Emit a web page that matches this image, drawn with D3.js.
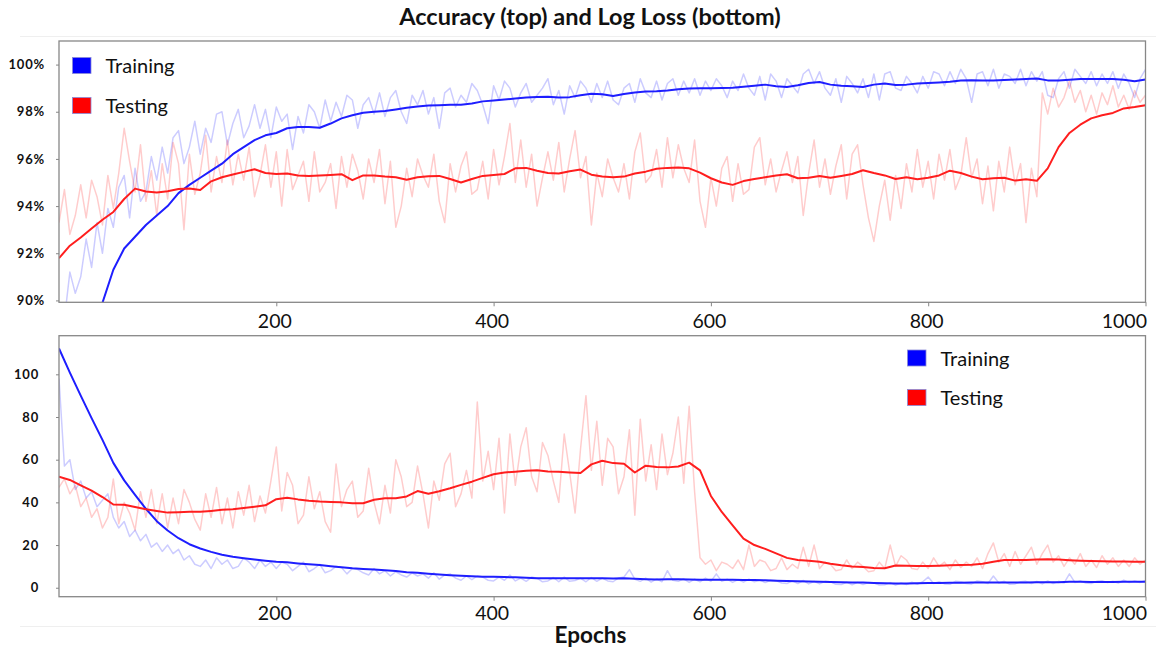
<!DOCTYPE html>
<html><head><meta charset="utf-8">
<script src="https://cdn.jsdelivr.net/npm/d3@7/dist/d3.min.js"></script>
<style>
html,body{margin:0;padding:0;background:#fff;}
svg{display:block;font-family:Lato,"Open Sans",sans-serif;}
</style></head><body>
<svg id="chart" width="1156" height="649"></svg>
<script>
// ---------------- data ----------------
const RAW_STEP = 5;      // raw (per-epoch sample) series every 5 epochs
const SMOOTH_STEP = 10;  // smoothed series every 10 epochs
const xTicks = [200, 400, 600, 800, 1000];
const accTicks = [90, 92, 94, 96, 98, 100];
const lossTicks = [0, 20, 40, 60, 80, 100];
const legendNames = ["Training", "Testing"];
const titleText = "Accuracy (top) and Log Loss (bottom)";
const xLabel = "Epochs";

const accTrainRaw = [
87.5,89.2,91.2,90.3,91.0,92.6,91.4,93.3,92.0,93.9,93.1,94.8,95.3,93.5,95.6,94.2,94.6,96.1,95.1,96.5,
95.4,96.9,97.2,95.8,96.5,97.6,96.2,97.3,96.7,97.9,98.0,96.6,97.5,98.1,96.9,97.4,98.3,97.3,98.1,96.9,
98.2,97.6,97.9,96.4,97.8,97.1,98.3,98.0,97.3,98.5,97.6,98.4,97.8,98.7,98.5,97.3,98.3,98.6,97.9,98.8,
97.8,98.6,98.9,98.0,97.5,98.7,98.3,98.9,97.9,98.6,97.3,98.8,99.0,98.2,98.7,98.4,99.2,98.9,98.3,97.5,
99.1,98.5,99.3,99.0,98.2,98.8,99.2,98.4,98.7,99.0,99.4,98.3,98.9,97.9,99.1,98.6,99.3,99.0,98.4,99.2,
98.6,99.3,98.5,98.3,99.0,99.2,98.4,99.4,98.8,98.6,99.3,98.5,99.2,99.4,98.7,99.3,98.8,99.4,98.7,99.3,
98.9,99.4,99.1,98.6,99.3,98.9,99.6,99.0,98.7,99.5,98.5,99.6,99.3,98.6,99.4,99.1,98.8,99.6,99.8,99.2,
99.7,99.0,98.7,99.4,98.4,99.5,99.2,98.8,99.4,98.6,99.6,98.5,99.6,99.7,99.0,98.9,99.5,99.2,98.8,99.5,
99.0,99.7,99.6,99.1,99.7,99.2,99.8,99.4,98.4,99.6,99.7,99.1,99.8,99.0,99.6,99.5,99.2,99.8,99.1,99.7,
99.3,99.7,98.7,98.6,99.4,99.7,99.0,99.8,99.5,99.2,99.7,99.1,99.6,99.2,99.7,99.0,99.6,99.2,98.6,99.4,99.8
];
const accTestRaw = [
93.3,94.7,92.8,93.6,94.9,93.5,95.1,94.4,93.2,95.3,93.9,95.4,97.3,95.9,94.6,96.6,94.2,95.5,93.6,95.8,
94.3,96.7,95.8,93.0,96.2,94.5,95.4,97.0,94.6,96.1,95.0,96.8,94.9,96.2,95.1,96.5,94.4,95.3,96.6,94.8,
96.3,94.0,96.4,94.7,95.3,95.9,94.2,96.3,94.6,95.0,95.8,93.9,96.1,94.8,96.2,95.5,94.3,96.0,95.0,96.4,
94.1,95.9,93.1,94.0,95.6,94.4,96.0,95.3,94.8,96.2,94.2,93.3,95.8,94.6,95.7,96.3,94.5,94.7,95.9,94.3,
96.4,94.9,96.1,97.5,95.0,96.8,94.8,96.2,94.0,95.2,96.3,95.1,96.7,94.6,96.0,97.2,95.2,96.1,93.2,95.4,
94.4,96.0,95.2,94.6,95.8,94.3,96.3,97.1,95.0,95.3,96.4,94.8,96.9,95.2,96.6,95.6,95.0,96.8,94.2,93.1,
95.2,94.0,95.6,96.1,94.2,95.8,94.5,94.7,96.5,96.9,94.9,96.0,94.6,95.5,96.3,95.0,96.1,93.6,95.4,96.8,
94.8,96.0,94.5,95.7,96.6,94.3,96.2,96.6,94.9,93.5,92.5,94.0,95.1,93.4,95.3,93.9,95.8,94.6,96.4,94.8,
95.9,94.3,96.2,95.1,96.4,94.7,95.3,96.9,95.2,96.0,94.1,95.7,93.8,95.9,94.6,96.5,94.9,95.8,93.3,95.6,
94.4,98.8,97.9,99.0,98.2,98.6,99.3,98.4,98.9,98.0,98.7,97.9,98.8,98.3,99.1,98.2,98.7,98.1,98.9,98.4,98.7
];
const accTrainSmooth = [
84.6,86.1,87.4,88.7,89.9,91.3,92.2,92.7,93.2,93.6,
94.0,94.55,94.9,95.2,95.5,95.8,96.2,96.5,96.8,97.0,
97.1,97.3,97.35,97.35,97.32,97.5,97.72,97.85,97.96,98.0,
98.03,98.1,98.17,98.22,98.26,98.28,98.3,98.3,98.35,98.44,
98.48,98.52,98.56,98.6,98.63,98.64,98.6,98.62,98.7,98.76,
98.74,98.67,98.75,98.82,98.86,98.87,98.9,98.95,98.99,99.0,
99.0,99.01,99.02,99.06,99.1,99.15,99.08,99.05,99.12,99.22,
99.26,99.15,99.1,99.08,99.05,99.15,99.2,99.13,99.15,99.2,
99.22,99.24,99.27,99.32,99.34,99.33,99.32,99.35,99.37,99.39,
99.41,99.33,99.33,99.36,99.39,99.39,99.39,99.39,99.36,99.29,99.37
];
const accTestSmooth = [
91.79,92.32,92.67,93.05,93.42,93.75,94.3,94.74,94.62,94.58,
94.63,94.72,94.75,94.68,95.05,95.22,95.34,95.45,95.56,95.4,
95.36,95.38,95.3,95.28,95.3,95.32,95.35,95.1,95.3,95.3,
95.25,95.22,95.12,95.22,95.26,95.28,95.15,95.0,95.15,95.28,
95.32,95.36,95.6,95.62,95.5,95.4,95.38,95.48,95.55,95.33,
95.25,95.22,95.25,95.38,95.46,95.58,95.62,95.64,95.6,95.42,
95.18,95.0,94.9,95.06,95.15,95.22,95.3,95.35,95.18,95.2,
95.28,95.2,95.28,95.36,95.52,95.4,95.3,95.15,95.22,95.14,
95.2,95.3,95.5,95.4,95.25,95.14,95.18,95.2,95.08,95.14,
95.07,95.6,96.5,97.1,97.45,97.72,97.85,97.95,98.14,98.2,98.28
];
const lossTrainRaw = [
98,57,60,46,50,42,45,38,41,44,33,28,31,24,27,22,25,19,21,17,
20,16,18,13,15,11,10,13,9,14,11,13,9,10,14,12,9,13,10,12,
9,12,11,8,10,12,7.5,9,11,7,8,10,9.5,6.5,9,8.5,7,6,9,6.5,
8,5.5,7.5,6,5,7,5.5,6.5,4.5,7,4,6,6.5,4.5,3.5,5.5,3.8,5.5,5,3.5,
3.2,5,3.5,6,3.2,4.5,3,5,4.5,2.8,3.2,4.8,2.8,5,3,3.4,4.5,2.8,4.8,3,
4.5,3.2,2.8,4.6,5,8.5,4,3,4.5,2.6,4.2,2.8,8,3.5,3,4.2,2.5,4,2.8,4.5,
3,6.5,3,4,2.5,3.8,2.6,4,2.8,3.6,2.4,3.5,3.4,2.2,2.0,3.2,2.0,3.4,1.8,3.0,
1.8,3.0,2.8,1.6,1.5,2.6,1.4,2.5,1.5,2.4,2.2,1.3,1.4,2.4,1.2,2.2,1.5,2.6,1.6,2.8,
5.0,2.0,2.8,1.8,1.6,3.0,2.8,2.0,1.8,3.2,2.8,2.0,5.5,2.2,3.0,1.6,1.8,2.8,3.0,2.0,
3.0,1.8,3.2,2.0,3.0,2.2,6.5,2.5,3.2,2.2,2.0,3.0,3.3,2.4,3.0,2.2,3.6,2.4,3.2,2.5,3.4
];
const lossTestRaw = [
47,51,44,48,38,42,33,37,28,33,51,30,40,35,27,45,33,46,30,44,
28,42,30,46,40,32,27,44,33,47,30,42,28,45,34,48,31,43,35,50,
66,36,54,48,30,34,52,37,45,31,26,58,38,46,50,33,36,56,40,30,
48,35,60,52,38,40,57,44,28,50,41,58,63,38,44,55,42,87,50,64,
46,70,35,72,48,66,75,52,45,68,62,50,40,72,54,35,65,90,55,78,
48,70,66,44,52,74,34,79,50,67,46,72,53,63,80,49,85,45,14,11,
13,8,12,11,9,13,8.5,20,10,13,12,8,9,14,8.5,11,9,19,10,20,
9,12,11,8,8.5,13,9,12,10,7.5,8,12,9,20,10,15,13,9,8.5,12,
9,14,10,12,8.5,13,9.5,12,10,14,9,16,21,12,16,10,17,11,15,19,
11,16,20,12,15,10,14,11,16,10,13,9.5,15,11,14,10,13,10,14,11,13
];
const lossTrainSmooth = [
112.1,100.8,90.0,79.5,69.3,58.5,50.3,43.5,37.0,31.2,
26.8,23.2,20.4,18.4,16.8,15.5,14.5,13.8,13.2,12.7,
12.2,11.9,11.4,11.0,10.6,10.1,9.6,9.1,8.8,8.5,
8.2,7.8,7.3,7.0,6.6,6.2,5.9,5.6,5.4,5.2,
5.1,5.0,4.9,4.7,4.5,4.4,4.5,4.4,4.4,4.4,
4.4,4.3,4.4,4.2,4.0,3.9,4.0,4.0,3.9,3.8,
3.8,3.7,3.7,3.6,3.6,3.5,3.3,3.1,3.0,2.9,
2.8,2.7,2.6,2.5,2.4,2.2,2.1,2.0,2.0,2.1,
2.2,2.2,2.3,2.3,2.4,2.5,2.5,2.4,2.4,2.5,
2.6,2.6,2.6,2.8,2.8,2.7,2.7,2.7,2.8,2.8,2.8
];
const lossTestSmooth = [
52.0,50.5,48.0,45.5,42.5,39.0,38.9,37.8,36.8,36.0,
35.2,35.4,35.6,35.6,36.0,36.5,36.8,37.4,38.0,38.6,
41.5,42.2,41.4,40.8,40.4,40.2,40.0,39.6,39.6,41.2,
41.9,41.9,42.8,45.3,44.0,45.2,46.6,48.2,49.7,51.5,
53.2,54.0,54.4,54.8,55.1,54.5,54.3,54.0,53.8,57.8,
59.5,58.4,58.1,54.0,57.2,56.6,56.4,56.8,58.6,55.0,
43.0,35.5,29.2,23.0,20.0,18.2,16.1,14.0,13.0,12.7,
12.2,11.2,10.5,10.0,9.7,9.3,9.1,10.4,10.3,10.2,
10.2,10.3,10.5,10.6,10.8,11.2,12.2,13.0,13.0,13.0,
13.2,13.4,13.2,12.9,12.7,12.5,12.4,12.3,12.3,12.2,12.2
];

// ---------------- drawing ----------------
const svg = d3.select("#chart");
const blueDark = "#1e1eff", redDark = "#ff1e1e";
const frameColor = "#878787";

const x = d3.scaleLinear().domain([0, 1000]).range([59, 1145.5]);
const yAcc = d3.scaleLinear().domain([89.92, 101.0]).range([302.3, 41]);
const yLoss = d3.scaleLinear().domain([-4.2, 118.1]).range([596.7, 335.7]);

// faint outer chart edges
svg.append("line").attr("x1",20).attr("x2",1156).attr("y1",36.5).attr("y2",36.5).attr("stroke","#efefef");
svg.append("line").attr("x1",20).attr("x2",1156).attr("y1",626.5).attr("y2",626.5).attr("stroke","#efefef");

// title
svg.append("text").attr("x",590).attr("y",25).attr("text-anchor","middle")
  .style("font-weight","700").style("font-size","23.5px").attr("fill","#111").text(titleText);
svg.append("text").attr("x",590.5).attr("y",643).attr("text-anchor","middle")
  .style("font-weight","700").style("font-size","22.5px").attr("fill","#111").text(xLabel);

function drawPanel(id, y, series, ticks, fmt, labelX, tickBaseline, legend) {
  const [r0, r1] = y.range(); // bottom, top
  const x0 = x.range()[0], x1 = x.range()[1];
  svg.append("clipPath").attr("id", id).append("rect")
    .attr("x", x0).attr("y", r1).attr("width", x1 - x0).attr("height", r0 - r1);
  const g = svg.append("g").attr("clip-path", `url(#${id})`);
  series.forEach(s => {
    const line = d3.line().x((d, i) => x(i * s.step)).y(d => y(d));
    g.append("path").datum(s.values).attr("d", line).attr("fill", "none")
      .attr("stroke", s.color).attr("stroke-opacity", s.opacity)
      .attr("stroke-width", s.width).attr("stroke-linejoin", "round");
  });
  // frame
  svg.append("rect").attr("x", x0).attr("y", r1).attr("width", x1 - x0).attr("height", r0 - r1)
    .attr("fill", "none").attr("stroke", frameColor).attr("stroke-width", 1.3);
  // y axis
  const ay = svg.append("g").attr("transform", `translate(${x0},0)`)
    .call(d3.axisLeft(y).tickValues(ticks).tickSize(3).tickFormat(fmt));
  ay.attr("font-size", null).attr("font-family", null);
  ay.select(".domain").remove();
  ay.selectAll(".tick line").attr("stroke", frameColor);
  ay.selectAll(".tick text").attr("x", labelX).attr("fill", "#111")
    .style("font-weight", "700").style("font-size", "13px").style("letter-spacing", "0.8px");
  // x axis
  const ax = svg.append("g").attr("transform", `translate(0,${r0})`)
    .call(d3.axisBottom(x).tickValues(xTicks).tickSize(4).tickFormat(d3.format("d")));
  ax.attr("font-size", null).attr("font-family", null);
  ax.select(".domain").remove();
  ax.selectAll(".tick line").attr("stroke", frameColor);
  ax.selectAll(".tick text").attr("y", tickBaseline).attr("dy", null).attr("dx", -2)
    .attr("fill", "#111").style("font-size", "19.5px");
  ax.selectAll(".tick text").filter(d => d === xTicks[xTicks.length - 1])
    .attr("text-anchor", "end").attr("dx", 1);
  // legend
  const colors = ["#0000ff", "#ff0000"];
  legendNames.forEach((name, i) => {
    const ly = legend.y + i * legend.gap;
    svg.append("rect").attr("x", legend.x).attr("y", ly).attr("width", 18.5).attr("height", 16)
      .attr("fill", colors[i]).attr("stroke", "#8a8ad8").attr("stroke-width", 0.8);
    svg.append("text").attr("x", legend.x + 33).attr("y", ly + 15.5)
      .style("font-size", "20px").attr("fill", "#111").text(name);
  });
}

drawPanel("clipTop", yAcc, [
  {values: accTrainRaw, step: RAW_STEP, color: "#0000ff", opacity: 0.2, width: 1.5},
  {values: accTestRaw, step: RAW_STEP, color: "#ff0000", opacity: 0.2, width: 1.5},
  {values: accTrainSmooth, step: SMOOTH_STEP, color: blueDark, opacity: 1, width: 2},
  {values: accTestSmooth, step: SMOOTH_STEP, color: redDark, opacity: 1, width: 2}
], accTicks, d => d + "%", -14, 26, {x: 72.5, y: 57.5, gap: 40});

drawPanel("clipBottom", yLoss, [
  {values: lossTrainRaw, step: RAW_STEP, color: "#0000ff", opacity: 0.2, width: 1.5},
  {values: lossTestRaw, step: RAW_STEP, color: "#ff0000", opacity: 0.2, width: 1.5},
  {values: lossTrainSmooth, step: SMOOTH_STEP, color: blueDark, opacity: 1, width: 2},
  {values: lossTestSmooth, step: SMOOTH_STEP, color: redDark, opacity: 1, width: 2}
], lossTicks, d3.format("d"), -20, 23.5, {x: 907.5, y: 350, gap: 39.5});
</script>
</body></html>
